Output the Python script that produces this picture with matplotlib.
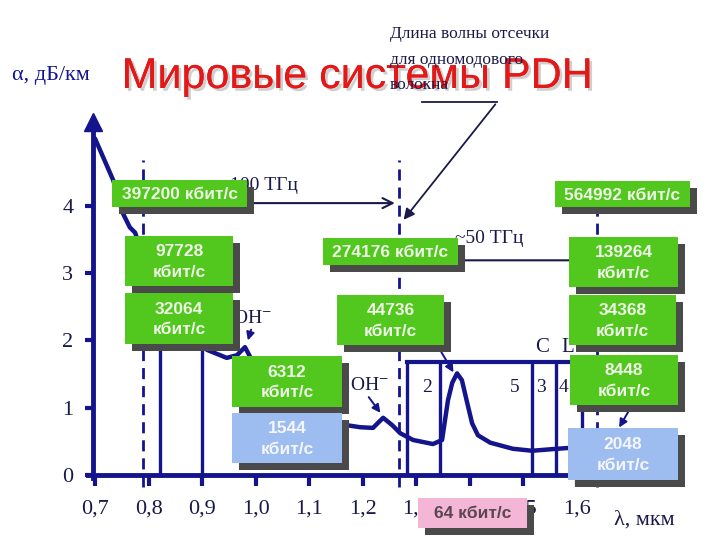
import matplotlib
matplotlib.use("Agg")
import matplotlib.pyplot as plt
import matplotlib.patheffects as pe
from matplotlib.patches import Rectangle

plt.rcParams['mathtext.fontset'] = 'stix'

# attenuation of silica fibre (wavelength in um, dB/km)
wavelength = [0.70, 0.734, 0.752, 0.765, 0.775, 0.80, 0.85, 0.909, 0.946, 0.965, 0.98,
              1.0, 1.05, 1.10, 1.17, 1.195, 1.219, 1.238, 1.255, 1.27, 1.294, 1.331,
              1.348, 1.359, 1.367, 1.376, 1.385, 1.395, 1.404, 1.415, 1.438, 1.48,
              1.516, 1.563, 1.581, 1.62, 1.66]
attenuation = [5.0, 4.38, 3.89, 3.68, 3.6, 3.0, 2.4, 1.86, 1.74, 1.78, 1.9,
               1.6, 1.15, 0.9, 0.74, 0.71, 0.70, 0.85, 0.74, 0.62, 0.52, 0.46,
               0.52, 1.11, 1.37, 1.51, 1.41, 1.07, 0.77, 0.59, 0.48, 0.39,
               0.36, 0.39, 0.40, 0.42, 0.43]

x_ticks = [0.7, 0.8, 0.9, 1.0, 1.1, 1.2, 1.3, 1.4, 1.5, 1.6]
x_tick_labels = ["0,7", "0,8", "0,9", "1,0", "1,1", "1,2", "1,3", "1,4", "1,5", "1,6"]
y_ticks = [0, 1, 2, 3, 4]
y_tick_labels = ["0", "1", "2", "3", "4"]

# reference wavelengths on the drawing
first_window = [0.821, 0.900]
second_window = [1.2825, 1.344, 1.516, 1.561, 1.609]
dashed_marks = [0.79, 1.268, 1.637]
dashed_tops = [4.68, 4.68, 4.0]

# PDH rates, box colour kind
rates = ["397200 кбит/с", "564992 кбит/с", "97728\nкбит/с", "274176 кбит/с",
         "139264\nкбит/с", "32064\nкбит/с", "44736\nкбит/с", "34368\nкбит/с",
         "6312\nкбит/с", "8448\nкбит/с", "1544\nкбит/с", "2048\nкбит/с", "64 кбит/с"]
rate_kind = ["g", "g", "g", "g", "g", "g", "g", "g", "g", "g", "b", "b", "p"]

# box layout in pixels: left, top, right, bottom
box_px = [(112, 180, 247, 207), (555, 181, 690, 207), (125, 236, 233, 286),
          (323, 238, 458, 265), (569, 237, 678, 287), (125, 293, 233, 344),
          (337, 295, 444, 345), (569, 295, 676, 345), (232, 356, 342, 407),
          (570, 355, 678, 405), (232, 413, 342, 463), (568, 428, 678, 480),
          (418, 498, 527, 528)]

W, H = 720, 540
navy = '#14148c'
ink = '#1a1a4a'
face = {"g": '#52c81e', "b": '#9dbcf0', "p": '#f3b6d6'}
txt_col = {"g": '#eef4e6', "b": '#f4f6fb', "p": '#5a4650'}


def px(x, y):
    return x / W, 1 - y / H


fig = plt.figure(figsize=(7.2, 5.4), dpi=100)
ax = fig.add_axes([0, 0, 1, 1])
# scale chosen so that 0.7 um / 0 dB sit where the scan puts them
ax.set_xlim(0.7 - 95 / 535.6, 0.7 + 625 / 535.6)
ax.set_ylim(-65 / 67.3, 475 / 67.3)

for s in ['top', 'right']:
    ax.spines[s].set_visible(False)
ax.spines['left'].set_position(('data', 0.696))
ax.spines['left'].set_bounds(-0.05, 5.2)
ax.spines['bottom'].set_position(('data', 0))
ax.spines['bottom'].set_bounds(0.686, 1.68)
for s in ['left', 'bottom']:
    ax.spines[s].set_color(navy)
    ax.spines[s].set_linewidth(3.5)
ax.plot([0.696], [5.25], marker='^', ms=13, color=navy, clip_on=False)

ax.set_xticks(x_ticks)
ax.set_xticklabels(x_tick_labels)
ax.set_yticks(y_ticks)
ax.set_yticklabels(y_tick_labels)
ax.tick_params(axis='x', direction='out', length=8, width=3, color=navy, pad=10)
ax.tick_params(axis='y', direction='out', length=6, width=3, color=navy, pad=8)
for lab in ax.get_xticklabels() + ax.get_yticklabels():
    lab.set_fontfamily('Liberation Serif')
    lab.set_fontsize(16)
    lab.set_color(ink)

# window boundaries and reference lines
for xv in first_window:
    ax.plot([xv, xv], [0, 1.95], color=navy, lw=2.4, zorder=2)
for xv in second_window:
    ax.plot([xv, xv], [0, 1.68], color=navy, lw=2.4, zorder=2)
ax.plot([second_window[0], 1.65], [1.68, 1.68], color=navy, lw=3, zorder=2)
for xv, top in zip(dashed_marks, dashed_tops):
    ax.plot([xv, xv], [-0.18, top], color=navy, lw=2, ls=(0, (4, 2.5)), zorder=2)

ax.plot(wavelength, attenuation, color=navy, lw=3.2, zorder=3,
        solid_capstyle='round')

# frequency spans
ax.annotate("", xy=(1.265, 4.04), xytext=(0.79, 4.04),
            arrowprops=dict(arrowstyle='->', color=ink, lw=1.5, mutation_scale=18), zorder=2)
ax.annotate("", xy=(1.637, 3.19), xytext=(1.268, 3.19),
            arrowprops=dict(arrowstyle='<->', color=ink, lw=1.5, mutation_scale=18), zorder=2)

# cut-off wavelength pointer
ax.plot([1.3105, 1.4506], [5.54, 5.54], color=ink, lw=1.3, zorder=6)
ax.annotate("", xy=(1.273, 3.76), xytext=(1.4506, 5.54),
            arrowprops=dict(arrowstyle='-|>', color=ink, lw=1.3, mutation_scale=16), zorder=6)

# small pointers
pointers = [((0.993, 2.2), (0.984, 1.96)), ((1.208, 1.19), (1.236, 0.89)),
            ((1.344, 1.86), (1.372, 1.49)), ((1.703, 1.04), (1.676, 0.67))]
for start, end in pointers:
    ax.annotate("", xy=end, xytext=start,
                arrowprops=dict(arrowstyle='-|>', color=navy, lw=1.4, mutation_scale=12), zorder=4)

serif = 'Liberation Serif'
labels = [("100 ТГц", 230, 190, 14), ("~50 ТГц", 455, 243, 14),
          ("OH$^{-}$", 233, 323, 14), ("OH$^{-}$", 350, 390, 14),
          ("2", 422, 392, 14), ("5", 510, 392, 14), ("3", 536, 392, 14),
          ("4", 559, 392, 14), ("C", 535, 352, 15), ("L", 561, 352, 15),
          ("λ, мкм", 614, 525, 16)]
for t, x, y, fs in labels:
    ax.text(*px(x, y), t, transform=ax.transAxes, fontfamily=serif, fontsize=fs,
            color=ink, va='baseline', ha='left', zorder=2)

ax.text(*px(12, 80), "α, дБ/км", transform=ax.transAxes, fontfamily=serif,
        fontsize=16, color=navy, va='baseline', ha='left')

# title with soft shadow
ax.text(*px(357, 88), "Мировые системы PDH", transform=ax.transAxes,
        fontfamily='Liberation Sans', fontsize=31, color='#e31818',
        ha='center', va='baseline', zorder=8,
        path_effects=[pe.withSimplePatchShadow(offset=(2, -2), shadow_rgbFace='#a0a0a0', alpha=0.5),
                      pe.Normal()])

cutoff_lines = ["Длина волны отсечки", "для одномодового", "волокна"]
for i, t in enumerate(cutoff_lines):
    ax.text(*px(390, 38 + 25.5 * i), t, transform=ax.transAxes, fontfamily=serif,
            fontsize=12.5, color=ink, va='baseline', ha='left', zorder=9)

# rate boxes with drop shadow
for t, kind, (l, tp, r, b) in zip(rates, rate_kind, box_px):
    x0, y0 = px(l, b)
    w, h = (r - l) / W, (b - tp) / H
    ax.add_patch(Rectangle((x0 + 7 / W, y0 - 7 / H), w, h, transform=ax.transAxes,
                           facecolor='#4a4a4a', edgecolor='none', zorder=10))
    ax.add_patch(Rectangle((x0, y0), w, h, transform=ax.transAxes,
                           facecolor=face[kind], edgecolor='none', zorder=11))
    ax.text(*px((l + r) / 2, (tp + b) / 2 + 1), t, transform=ax.transAxes,
            fontfamily='Liberation Sans', fontweight='bold', fontsize=12.5,
            color=txt_col[kind], ha='center', va='center', linespacing=1.45, zorder=12)

fig.savefig("out.png", dpi=100, facecolor='white')
